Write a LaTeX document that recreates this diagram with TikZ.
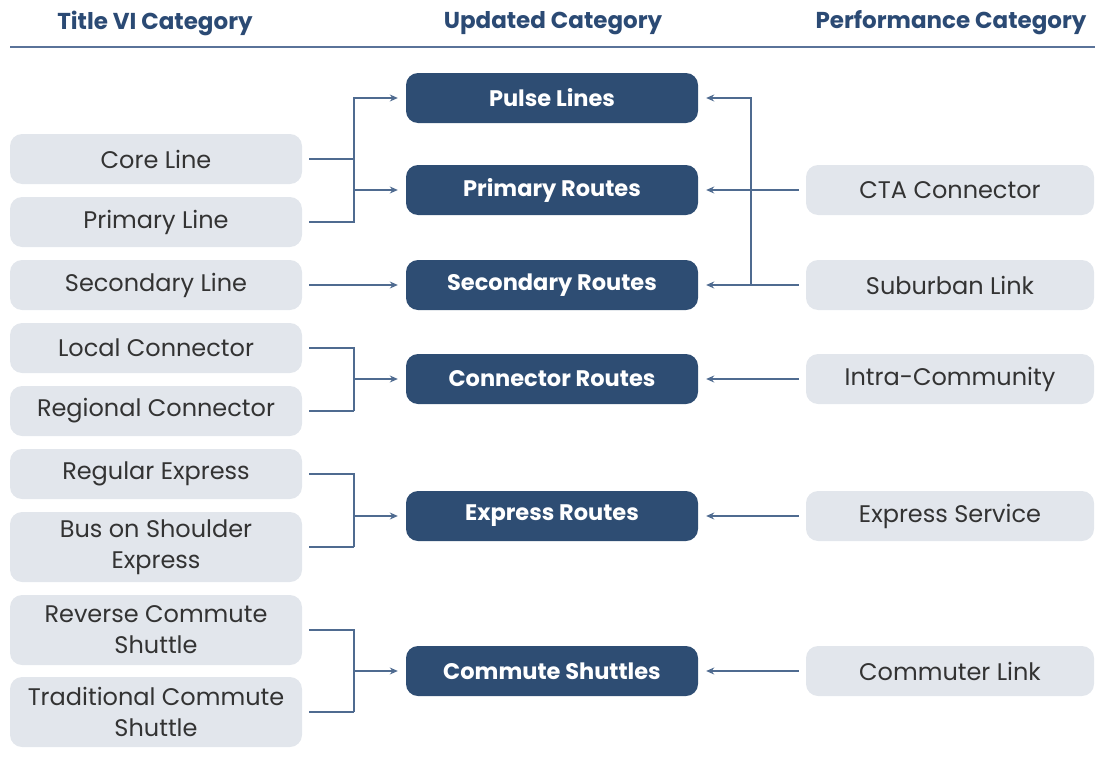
\documentclass[tikz,border=0pt]{standalone}
\usepackage{fontspec}
\setmainfont{Poppins}
\usetikzlibrary{positioning,arrows.meta}

\definecolor{headblue}{HTML}{2B4A74}
\definecolor{navy}{HTML}{2E4D73}
\definecolor{boxgray}{HTML}{E2E6EC}
\definecolor{textgray}{HTML}{333333}
\definecolor{linkblue}{HTML}{4F6B90}
\definecolor{ruleblue}{HTML}{5A7399}

\begin{document}
\begin{tikzpicture}[x=1pt, y=-1pt,
    >={Stealth[length=8pt,width=7pt]},
    title/.style={font=\bfseries\fontsize{23}{27}\selectfont, text=headblue},
    oldcat/.style={fill=boxgray, rounded corners=12pt, minimum width=292pt,
        minimum height=50pt, align=center, text=textgray,
        font=\fontsize{24}{31}\selectfont},
    newcat/.style={fill=navy, text=white, rounded corners=12pt,
        minimum width=292pt, minimum height=50pt,
        font=\bfseries\fontsize{22.5}{26}\selectfont},
    perfcat/.style={oldcat, minimum width=288pt},
    wire/.style={draw=linkblue, line width=1.2pt},
    feed/.style={shorten <=7pt},
    into/.style={->, shorten >=8pt},
]
    \useasboundingbox (0,0) rectangle (1095,771);

    %% Headings
    \node[title] (headold) at (155,23) {Title VI Category};
    \node[title] (headnew) at (553,23) {Updated Category};
    \node[title] (headperf) at (951,23) {Performance Category};
    \draw[ruleblue, line width=2pt] (10,47) -- (1095,47);

    %% Title VI categories
    \node[oldcat] (coreline) at (156,159) {Core Line};
    \node[oldcat] (primaryline) at (156,222) {Primary Line};
    \node[oldcat] (secondaryline) at (156,285) {Secondary Line};
    \node[oldcat] (localconn) at (156,348) {Local Connector};
    \node[oldcat] (regionalconn) at (156,411) {Regional Connector};
    \node[oldcat] (regexpress) at (156,474) {Regular Express};
    \node[oldcat, minimum height=70pt] (busexpress) at (156,547) {Bus on Shoulder\\Express};
    \node[oldcat, minimum height=70pt] (revshuttle) at (156,630) {Reverse Commute\\Shuttle};
    \node[oldcat, minimum height=70pt] (tradshuttle) at (156,712) {Traditional Commute\\Shuttle};

    %% Updated categories
    \node[newcat] (pulse) at (552,98) {Pulse Lines};
    \node[newcat] (primary) at (552,190) {Primary Routes};
    \node[newcat] (secondary) at (552,285) {Secondary Routes};
    \node[newcat] (connector) at (552,379) {Connector Routes};
    \node[newcat] (express) at (552,516) {Express Routes};
    \node[newcat] (shuttles) at (552,671) {Commute Shuttles};

    %% Performance categories
    \node[perfcat] (cta) at (950,190) {CTA Connector};
    \node[perfcat] (suburban) at (950,285) {Suburban Link};
    \node[perfcat] (intra) at (950,379) {Intra-Community};
    \node[perfcat] (expservice) at (950,516) {Express Service};
    \node[perfcat] (commuter) at (950,671) {Commuter Link};

    % Bus lines
    \coordinate (lbus) at (354,0);
    \coordinate (rbus) at (751,0);

    %% Left links
    \draw[wire, feed] (coreline.east) -- (coreline.east -| lbus);
    \draw[wire, feed, into] (primaryline.east) -| (lbus |- pulse.west) -- (pulse.west);
    \draw[wire, into] (lbus |- primary.west) -- (primary.west);

    \draw[wire, feed, into] (secondaryline.east) -- (secondary.west);

    \draw[wire, feed] (localconn.east) -| (lbus |- regionalconn.east);
    \draw[wire, feed] (regionalconn.east) -- (regionalconn.east -| lbus);
    \draw[wire, into] (lbus |- connector.west) -- (connector.west);

    \draw[wire, feed] (regexpress.east) -| (lbus |- busexpress.east);
    \draw[wire, feed] (busexpress.east) -- (busexpress.east -| lbus);
    \draw[wire, into] (lbus |- express.west) -- (express.west);

    \draw[wire, feed] (revshuttle.east) -| (lbus |- tradshuttle.east);
    \draw[wire, feed] (tradshuttle.east) -- (tradshuttle.east -| lbus);
    \draw[wire, into] (lbus |- shuttles.west) -- (shuttles.west);

    %% Right links
    \draw[wire, feed, into] (cta.west) -- (primary.east);
    \draw[wire, feed, into] (suburban.west) -- (secondary.east);
    \draw[wire, into] (rbus |- suburban.west) |- (pulse.east);
    \draw[wire, feed, into] (intra.west) -- (connector.east);
    \draw[wire, feed, into] (expservice.west) -- (express.east);
    \draw[wire, feed, into] (commuter.west) -- (shuttles.east);

\end{tikzpicture}
\end{document}
